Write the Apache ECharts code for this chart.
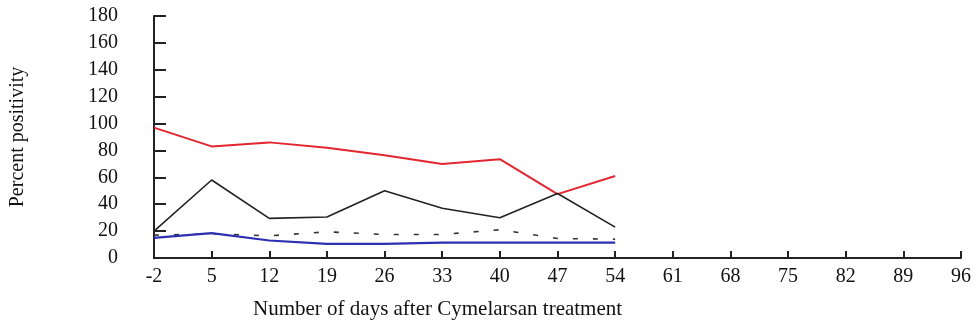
<!DOCTYPE html>
<html><head><meta charset="utf-8">
<script src="https://cdn.jsdelivr.net/npm/echarts@6/dist/echarts.min.js"></script>
<style>html,body{margin:0;padding:0;background:#fff}#c{width:974px;height:326px}</style>
</head><body><div id="c"></div>
<script>
const days = ['-2','5','12','19','26','33','40','47','54','61','68','75','82','89','96'];
const redSeries = [97, 83, 86, 82, 76.5, 70, 73.5, 47.5, 61];
const blackSolid = [20, 58, 29.5, 30.5, 50, 37, 30, 48, 23];
const blackDashed = [17, 18, 16.5, 19.5, 17.5, 17.5, 21, 14.5, 14];
const blueSeries = [15, 18.5, 13, 10.5, 10.5, 11.5, 11.5, 11.5, 11.5];
const yTicks = {min: 0, max: 180, interval: 20};

const font = '"Liberation Serif", "DejaVu Serif", serif';
const chart = echarts.init(document.getElementById('c'));
chart.setOption({
  animation: false,
  grid: {left: 153, right: 10, top: 16, bottom: 68},
  xAxis: {
    type: 'category', data: days, boundaryGap: false,
    axisLine: {lineStyle: {color: '#222', width: 2}},
    axisTick: {inside: true, length: 7, lineStyle: {color: '#222', width: 2}},
    axisLabel: {color: '#111', fontFamily: font, fontSize: 20, margin: 9},
    splitLine: {show: false}
  },
  yAxis: {
    type: 'value', min: yTicks.min, max: yTicks.max, interval: yTicks.interval,
    name: 'Percent positivity', nameLocation: 'middle', nameGap: 126,
    nameTextStyle: {color: '#111', fontFamily: font, fontSize: 20},
    axisLine: {show: true, lineStyle: {color: '#222', width: 2}},
    axisTick: {show: true, inside: true, length: 12, lineStyle: {color: '#222', width: 2}},
    axisLabel: {color: '#111', fontFamily: font, fontSize: 20, margin: 36},
    splitLine: {show: false}
  },
  graphic: [{
    type: 'text', left: 253, top: 299,
    style: {text: 'Number of days after Cymelarsan treatment', fill: '#111', font: '21px ' + font}
  }],
  series: [
    {type: 'line', data: redSeries, symbol: 'none', lineStyle: {color: '#e3262f', width: 2}},
    {type: 'line', data: blackSolid, symbol: 'none', lineStyle: {color: '#222', width: 1.6}},
    {type: 'line', data: blackDashed, symbol: 'none', lineStyle: {color: '#333', width: 1.6, type: [5, 15]}},
    {type: 'line', data: blueSeries, symbol: 'none', lineStyle: {color: '#2b2fb0', width: 2.2}}
  ]
});
</script></body></html>
